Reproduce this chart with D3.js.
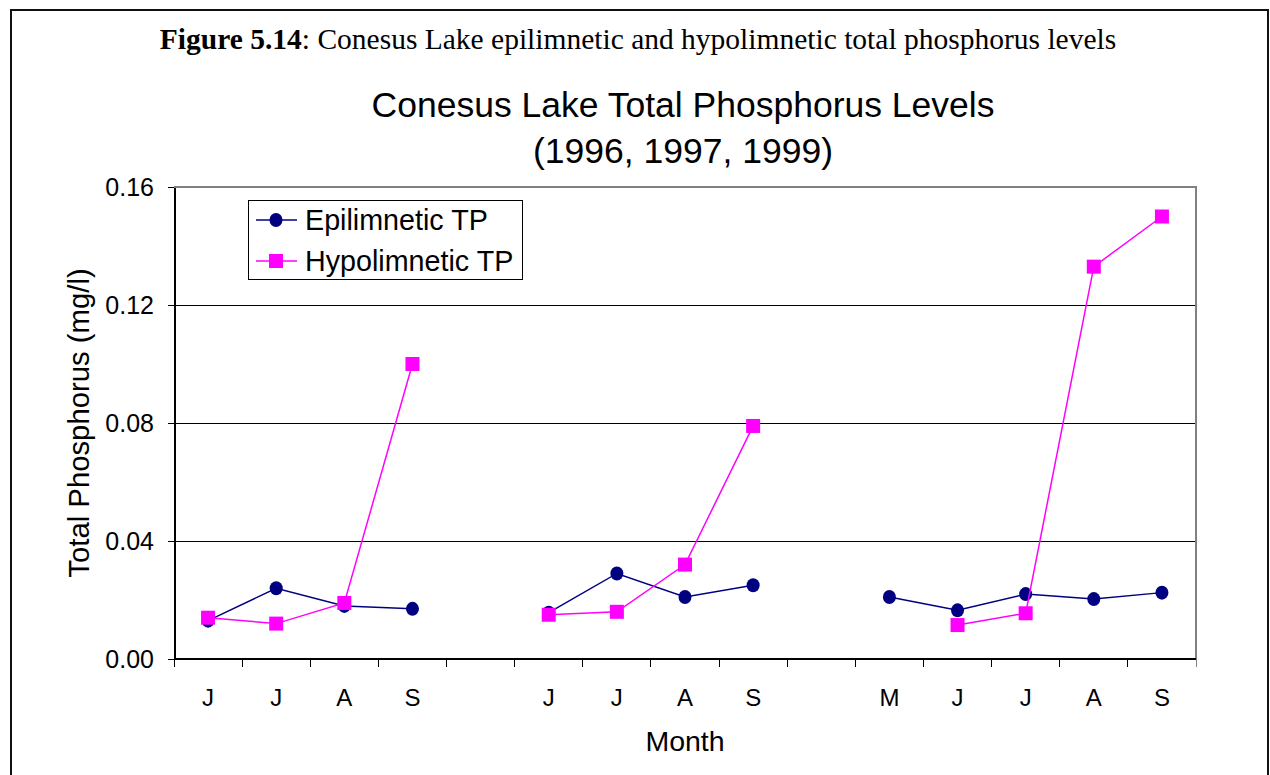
<!DOCTYPE html>
<html lang="en">
<head>
    <meta charset="UTF-8">
    <title>Conesus Lake Total Phosphorus Levels</title>
    <script src="https://d3js.org/d3.v7.min.js"></script>
    <style>
        body { margin: 0; background: #fff; }
        svg text { fill: #000; }
        .caption { font-family: "Liberation Serif", "Times New Roman", serif; font-size: 29.5px; }
        .sans { font-family: "Liberation Sans", Arial, sans-serif; }
        .crisp { shape-rendering: crispEdges; }
    </style>
</head>
<body>
    <svg id="chart" width="1270" height="775"></svg>

    <script>
        // Month slots, blanks separate the years (1996, 1997, 1999)
        const months = ["J", "J", "A", "S", "", "J", "J", "A", "S", "", "M", "J", "J", "A", "S"];
        const epiTP  = [0.013, 0.024, 0.018, 0.017, null, 0.0157, 0.029, 0.021, 0.025, null, 0.021, 0.0165, 0.022, 0.0203, 0.0225];
        const hypoTP = [0.014, 0.012, 0.019, 0.100, null, 0.015, 0.016, 0.032, 0.079, null, null, 0.0115, 0.0155, 0.133, 0.150];
        const yTicks = [0, 0.04, 0.08, 0.12, 0.16];

        const svg = d3.select("#chart");
        const plot = { left: 174, right: 1196, top: 187, bottom: 659 };

        // Outer frame
        svg.append("rect")
            .attr("x", 11).attr("y", 10)
            .attr("width", 1257).attr("height", 780)
            .attr("fill", "none").attr("stroke", "#111").attr("stroke-width", 2);

        // Caption
        const cap = svg.append("text").attr("class", "caption")
            .attr("x", 638).attr("y", 49).attr("text-anchor", "middle");
        cap.append("tspan").attr("font-weight", "bold").text("Figure 5.14");
        cap.append("tspan").text(": Conesus Lake epilimnetic and hypolimnetic total phosphorus levels");

        // Chart title
        svg.append("text").attr("class", "sans")
            .attr("x", 683).attr("y", 117).attr("text-anchor", "middle")
            .attr("font-size", 35.5).text("Conesus Lake Total Phosphorus Levels");
        svg.append("text").attr("class", "sans")
            .attr("x", 683).attr("y", 163).attr("text-anchor", "middle")
            .attr("font-size", 35.5).text("(1996, 1997, 1999)");

        // Scales
        const x = d3.scaleBand()
            .domain(d3.range(months.length))
            .range([plot.left, plot.right])
            .padding(0);
        const cx = i => x(i) + x.bandwidth() / 2;

        const y = d3.scaleLinear()
            .domain([0, 0.16])
            .range([plot.bottom, plot.top]);

        // Gridlines
        svg.append("g").attr("class", "crisp").selectAll("line")
            .data(yTicks.filter(d => d > 0 && d < 0.16))
            .join("line")
            .attr("x1", plot.left).attr("x2", plot.right)
            .attr("y1", d => y(d)).attr("y2", d => y(d))
            .attr("stroke", "#000").attr("stroke-width", 1);

        // Plot frame (top and right in gray)
        svg.append("path").attr("class", "crisp")
            .attr("d", `M${plot.left},${plot.top}H${plot.right}V${plot.bottom}`)
            .attr("fill", "none").attr("stroke", "#808080").attr("stroke-width", 2);

        // Y axis
        const yAxis = svg.append("g").attr("class", "crisp")
            .attr("transform", `translate(${plot.left},0)`)
            .call(d3.axisLeft(y).tickValues(yTicks).tickFormat(d3.format(".2f"))
                .tickSize(6).tickSizeOuter(0).tickPadding(14));
        yAxis.select(".domain").attr("stroke", "#000").attr("stroke-width", 2);
        yAxis.selectAll(".tick line").attr("stroke", "#000");
        yAxis.selectAll(".tick text")
            .attr("class", "sans").attr("font-size", 25).attr("dy", "0.35em");

        // X axis: ticks at slot boundaries, labels at slot centers
        const xAxis = svg.append("g").attr("class", "crisp")
            .attr("transform", `translate(0,${plot.bottom})`);
        xAxis.append("line")
            .attr("x1", plot.left).attr("x2", plot.right)
            .attr("stroke", "#000").attr("stroke-width", 2);
        xAxis.selectAll(".xtick")
            .data(d3.range(months.length + 1))
            .join("line").attr("class", "xtick")
            .attr("x1", i => i < months.length ? x(i) : plot.right)
            .attr("x2", i => i < months.length ? x(i) : plot.right)
            .attr("y1", 0).attr("y2", 8)
            .attr("stroke", (d, i) => i === months.length ? "#808080" : "#000");
        xAxis.selectAll(".xlab")
            .data(months)
            .join("text").attr("class", "sans xlab")
            .attr("x", (d, i) => cx(i)).attr("y", 47)
            .attr("text-anchor", "middle").attr("font-size", 24)
            .text(d => d);

        // Axis titles
        svg.append("text").attr("class", "sans")
            .attr("x", 685).attr("y", 751).attr("text-anchor", "middle")
            .attr("font-size", 28.5).text("Month");
        svg.append("text").attr("class", "sans")
            .attr("transform", `translate(89,${(plot.top + plot.bottom) / 2}) rotate(-90)`)
            .attr("text-anchor", "middle").attr("font-size", 29.3)
            .text("Total Phosphorus (mg/l)");

        // Series
        const series = [
            { name: "Epilimnetic TP", values: epiTP, color: "#000080", shape: "circle" },
            { name: "Hypolimnetic TP", values: hypoTP, color: "#FF00FF", shape: "square" }
        ];

        const line = d3.line()
            .defined(d => d !== null)
            .x((d, i) => cx(i))
            .y(d => y(d));

        series.forEach(s => {
            svg.append("path")
                .attr("d", line(s.values))
                .attr("fill", "none").attr("stroke", s.color).attr("stroke-width", 1.5);

            const pts = s.values.map((v, i) => ({ v, i })).filter(d => d.v !== null);
            if (s.shape === "circle") {
                svg.append("g").selectAll("ellipse")
                    .data(pts).join("ellipse")
                    .attr("cx", d => cx(d.i)).attr("cy", d => y(d.v))
                    .attr("rx", 6.5).attr("ry", 7)
                    .attr("fill", s.color);
            } else {
                svg.append("g").selectAll("rect")
                    .data(pts).join("rect")
                    .attr("x", d => cx(d.i) - 7).attr("y", d => y(d.v) - 7)
                    .attr("width", 14).attr("height", 14)
                    .attr("fill", s.color);
            }
        });

        // Legend
        const legend = svg.append("g").attr("transform", "translate(248,200)");
        legend.append("rect").attr("class", "crisp")
            .attr("width", 274).attr("height", 79)
            .attr("fill", "#fff").attr("stroke", "#000").attr("stroke-width", 1);
        series.forEach((s, k) => {
            const g = legend.append("g").attr("transform", `translate(0,${20 + k * 41})`);
            g.append("line").attr("x1", 8).attr("x2", 49)
                .attr("stroke", s.color).attr("stroke-width", 1.5);
            if (s.shape === "circle") {
                g.append("ellipse").attr("cx", 28).attr("rx", 6.5).attr("ry", 7).attr("fill", s.color);
            } else {
                g.append("rect").attr("x", 21).attr("y", -7).attr("width", 14).attr("height", 14).attr("fill", s.color);
            }
            g.append("text").attr("class", "sans")
                .attr("x", 57).attr("dy", "0.35em").attr("font-size", 28.7)
                .text(s.name);
        });
    </script>
</body>
</html>
